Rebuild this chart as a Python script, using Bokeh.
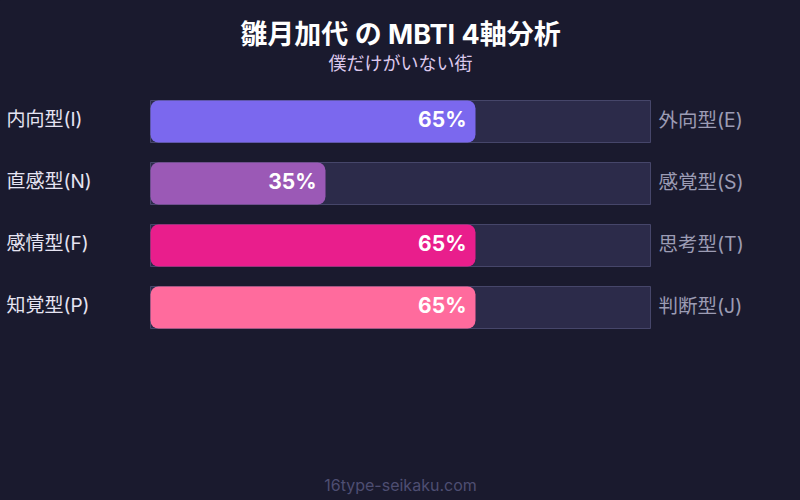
from bokeh.plotting import figure
from bokeh.models import Range1d, Label, ColumnDataSource
from bokeh.core.properties import value
from bokeh.embed import file_html
from bokeh.resources import INLINE

# ---- data ----
title_text = "雛月加代 の MBTI 4軸分析"
subtitle_text = "僕だけがいない街"
footer_text = "16type-seikaku.com"
left_labels = ["内向型(I)", "直感型(N)", "感情型(F)", "知覚型(P)"]
right_labels = ["外向型(E)", "感覚型(S)", "思考型(T)", "判断型(J)"]
percents = [65, 35, 65, 65]
bar_colors = ["#7b68ee", "#9b59b6", "#e91e8c", "#ff6b9d"]

BG = "#1a1a2e"
FONT = "Inter, 'Noto Sans CJK JP', sans-serif"

W, H = 800, 500
rows = list(range(len(left_labels)))

# x: 0..100 percent maps onto a 500px track; y: one unit per row (62px)
px_x = 5.0
px_y = 62.0
x0 = (0 - 150) / px_x
x1 = (W - 150) / px_x
y_top = (0 - 121) / px_y
y_bot = (H - 121) / px_y
text_dy = -2 / px_y

p = figure(width=W, height=H, output_backend="svg", toolbar_location=None,
           x_range=Range1d(x0, x1), y_range=Range1d(y_bot, y_top),
           min_border=0, background_fill_color=BG, border_fill_color=BG,
           outline_line_color=None)
p.axis.visible = False
p.grid.visible = False

src = ColumnDataSource(dict(
    y=rows, ty=[r + text_dy for r in rows], pct=percents, color=bar_colors,
    left=left_labels, right=right_labels,
    ptxt=[f"{v}%" for v in percents],
    pend=[v - 1.8 for v in percents],
    full=[100] * len(rows), zero=[0] * len(rows),
))

bar_h = 42 / px_y
p.hbar(y="y", left="zero", right="full", height=bar_h, source=src,
       fill_color="#2c2b4a", line_color="#46466a", line_width=1)
p.hbar(y="y", left="zero", right="pct", height=bar_h, source=src,
       fill_color="color", line_color=None, border_radius=8)

p.text(x="pend", y="ty", text="ptxt", source=src, text_color="#ffffff",
       text_font=value(FONT), text_font_size="21px", text_font_style="bold",
       text_align="right", text_baseline="middle")
p.text(x=(6 - 150) / px_x, y="ty", text="left", source=src, text_color="#e6e4f2",
       text_font=value(FONT), text_font_size="19px",
       text_align="left", text_baseline="middle")
p.text(x=(658 - 150) / px_x, y="ty", text="right", source=src, text_color="#9c9cb4",
       text_font=value(FONT), text_font_size="19.5px",
       text_align="left", text_baseline="middle")

p.add_layout(Label(x=W / 2, y=H - 34, x_units="screen", y_units="screen",
                   text=title_text, text_color="#ffffff", text_font=FONT,
                   text_font_size="27px", text_font_style="bold",
                   text_align="center", text_baseline="middle"))
p.add_layout(Label(x=W / 2, y=H - 63, x_units="screen", y_units="screen",
                   text=subtitle_text, text_color="#dcc8ec", text_font=FONT,
                   text_font_size="18px",
                   text_align="center", text_baseline="middle"))
p.add_layout(Label(x=W / 2, y=H - 484, x_units="screen", y_units="screen",
                   text=footer_text, text_color="#4e4e72", text_font=FONT,
                   text_font_size="16px",
                   text_align="center", text_baseline="middle"))

html = file_html(p, INLINE)
html = html.replace("</head>", "<style>html,body{background:%s;}</style></head>" % BG, 1)
open("out.html", "w").write(html)
